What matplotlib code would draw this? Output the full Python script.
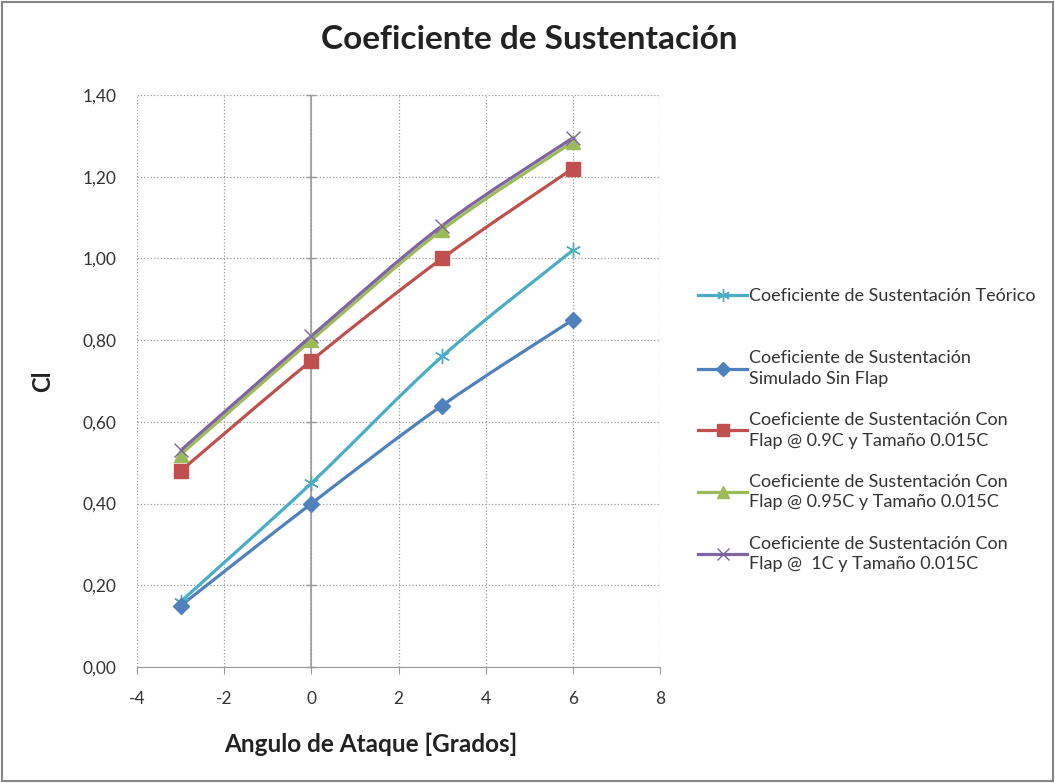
import numpy as np
import matplotlib.pyplot as plt
from matplotlib.path import Path
from matplotlib.patches import PathPatch, Rectangle
from matplotlib.lines import Line2D

plt.rcParams['font.family'] = ['Lato', 'DejaVu Sans']
plt.rcParams['axes.unicode_minus'] = False

alpha = [-3, 0, 3, 6]
cl_teorico = [0.16, 0.45, 0.76, 1.02]
cl_sin_flap = [0.15, 0.40, 0.64, 0.85]
cl_flap_09 = [0.48, 0.75, 1.00, 1.22]
cl_flap_095 = [0.52, 0.80, 1.07, 1.285]
cl_flap_1 = [0.53, 0.81, 1.08, 1.295]

labels = [
    "Coeficiente de Sustentación Teórico",
    "Coeficiente de Sustentación\nSimulado Sin Flap",
    "Coeficiente de Sustentación Con\nFlap @ 0.9C y Tamaño 0.015C",
    "Coeficiente de Sustentación Con\nFlap @ 0.95C y Tamaño 0.015C",
    "Coeficiente de Sustentación Con\nFlap @  1C y Tamaño 0.015C",
]
x_ticks = [-4, -2, 0, 2, 4, 6, 8]
y_ticks = [0.0, 0.2, 0.4, 0.6, 0.8, 1.0, 1.2, 1.4]

series = [
    (cl_teorico, "#4BACC6", (6, 2, 0), 11, 1.0),
    (cl_sin_flap, "#4F81BD", "D", 8, None),
    (cl_flap_09, "#C0504D", "s", 10, None),
    (cl_flap_095, "#9BBB59", "^", 10, None),
    (cl_flap_1, "#8064A2", "x", 10, 1.0),
]


def smooth_path(xs, ys):
    # bezier through the points, like Excel's smoothed line
    pts = np.column_stack([xs, ys]).astype(float)
    verts = [pts[0]]
    codes = [Path.MOVETO]
    n = len(pts)
    for i in range(n - 1):
        p_prev = pts[max(i - 1, 0)]
        p0 = pts[i]
        p1 = pts[i + 1]
        p_next = pts[min(i + 2, n - 1)]
        c1 = p0 + (p1 - p_prev) / 6
        c2 = p1 - (p_next - p0) / 6
        verts += [c1, c2, p1]
        codes += [Path.CURVE4] * 3
    return Path(verts, codes)


fig = plt.figure(figsize=(10.55, 7.83), dpi=100)
ax = fig.add_axes([0.1299, 0.1481, 0.4957, 0.7306])

handles = []
for ys, color, marker, ms, mew in series:
    ax.add_patch(PathPatch(smooth_path(alpha, ys), facecolor="none",
                           edgecolor=color, lw=2.3, zorder=3))
    kw = dict(marker=marker, markersize=ms, color=color, linestyle="none", zorder=4)
    if mew:
        kw["markeredgewidth"] = mew
    ax.plot(alpha, ys, **kw)
    h = Line2D([], [], color=color, lw=2.3, marker=marker, markersize=ms * 0.85)
    if mew:
        h.set_markeredgewidth(mew)
    handles.append(h)

ax.set_xlim(-4, 8)
ax.set_ylim(0, 1.4)
ax.set_xticks(x_ticks)
ax.set_yticks(y_ticks)
ax.set_yticklabels([f"{v:.2f}".replace(".", ",") for v in y_ticks])
ax.grid(True, linestyle=":", color="#9A9A9A", lw=0.9)
ax.set_axisbelow(True)

for side in ["left", "right", "top"]:
    ax.spines[side].set_visible(False)
ax.spines["bottom"].set_color("#9A9A9A")
ax.axvline(0, color="#9A9A9A", lw=1.2, zorder=2)
ax.plot([0] * len(y_ticks), y_ticks, marker="_", ls="none", color="#9A9A9A",
        markersize=7, clip_on=False, zorder=2)

ax.tick_params(axis="y", length=0, pad=15, labelsize=12.5, labelcolor="#333333")
ax.tick_params(axis="x", length=5, color="#9A9A9A", pad=12, labelsize=12.5,
               labelcolor="#333333")

ax.set_xlabel("Angulo de Ataque [Grados]", fontsize=17.5, fontweight="bold",
              labelpad=19, color="#222222")
ax.xaxis.label.set_x(0.447)
ax.set_ylabel("Cl", fontsize=17, fontweight="bold", labelpad=20, color="#222222")
fig.suptitle("Coeficiente de Sustentación", x=0.502, y=0.968, fontsize=24,
             fontweight="bold", color="#222222")

leg_kw = dict(loc="upper left", frameon=False, fontsize=13, handlelength=2.7,
              handletextpad=0.1, borderaxespad=0, labelcolor="#333333")
leg1 = fig.legend(handles[:1], labels[:1], bbox_to_anchor=(0.655, 0.641), **leg_kw)
leg2 = fig.legend(handles[1:], labels[1:], bbox_to_anchor=(0.655, 0.562),
                  labelspacing=1.4, **leg_kw)
for t in leg2.get_texts():
    t.set_linespacing(1.35)

fig.add_artist(Rectangle((0.002, 0.003), 0.996, 0.994, transform=fig.transFigure,
                         fill=False, edgecolor="#868686", lw=1.5))

fig.savefig("out.png", dpi=100)
